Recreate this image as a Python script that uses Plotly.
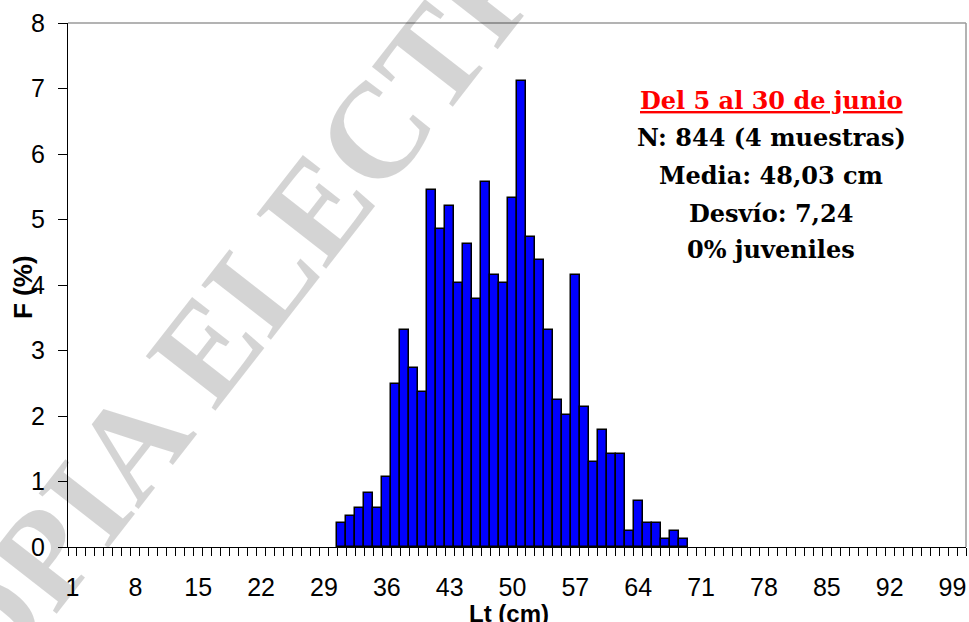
import plotly.graph_objects as go

# ---- data ----
lt_cm = [31, 32, 33, 34, 35, 36, 37, 38, 39, 40,
         41, 42, 43, 44, 45, 46, 47, 48, 49, 50,
         51, 52, 53, 54, 55, 56, 57, 58, 59, 60,
         61, 62, 63, 64, 65, 66, 67, 68, 69]
freq_pct = [0.36, 0.47, 0.59, 0.83, 0.59, 1.07, 2.49, 3.32, 2.73, 2.37,
            5.45, 4.86, 5.21, 4.03, 4.62, 3.79, 5.57, 4.15, 4.03, 5.33,
            7.11, 4.74, 4.38, 3.32, 2.25, 2.01, 4.15, 2.13, 1.30, 1.78,
            1.42, 1.42, 0.24, 0.71, 0.36, 0.36, 0.12, 0.24, 0.12]
x_tick_vals = [1, 8, 15, 22, 29, 36, 43, 50, 57, 64, 71, 78, 85, 92, 99]
x_tick_text = ["1", "8", "15", "22", "29", "36", "43", "50", "57", "64",
               "71", "78", "85", "92", "99"]
y_ticks = [0, 1, 2, 3, 4, 5, 6, 7, 8]
info_title = "Del 5 al 30 de junio"
info_lines = ["N: 844 (4 muestras)", "Media: 48,03 cm", "Desvío: 7,24", "0% juveniles"]
watermark = "COPIA ELECTRÓNICA"

W, H = 969, 622
L, R, T, B = 68, 3, 23, 75
PW, PH = W - L - R, H - T - B


def xp(px):
    return (px - L) / PW


def yp(py):
    return (H - B - py) / PH


fig = go.Figure()
fig.add_trace(go.Bar(
    x=lt_cm, y=freq_pct,
    marker=dict(color="#0000FF", line=dict(color="black", width=1.5)),
    width=1.0,
    hoverinfo="x+y",
))

sans = "Liberation Sans, Arial, sans-serif"
serif = "Liberation Serif, Times New Roman, serif"
serif2 = "DejaVu Serif, Liberation Serif, serif"

fig.update_layout(
    width=W, height=H,
    margin=dict(l=L, r=R, t=T, b=B, pad=0),
    paper_bgcolor="white", plot_bgcolor="white",
    bargap=0, showlegend=False,
    xaxis=dict(
        range=[0.5, 100.5], tickmode="array", tickvals=x_tick_vals, ticktext=x_tick_text,
        ticks="outside", ticklen=0, tickcolor="black",
        minor=dict(ticks="outside", ticklen=8, tickcolor="black", tickwidth=1,
                   tick0=0.5, dtick=1, showgrid=False),
        showline=True, linecolor="black", linewidth=1.3,
        showgrid=False, zeroline=False, automargin=False,
        tickfont=dict(family=sans, size=25, color="black"),
        ticklabelstandoff=18,
    ),
    yaxis=dict(
        range=[0, 8], tickmode="array", tickvals=y_ticks,
        ticks="outside", ticklen=9, tickcolor="black", tickwidth=1,
        showline=True, linecolor="black", linewidth=1.3,
        showgrid=False, zeroline=False, automargin=False,
        tickfont=dict(family=sans, size=25, color="black"),
        ticklabelstandoff=8,
    ),
)

# gray top/right border of the plot area
fig.add_shape(type="line", xref="paper", yref="paper", x0=0, x1=1, y0=1, y1=1,
              line=dict(color="#9a9a9a", width=1.5))
fig.add_shape(type="line", xref="paper", yref="paper", x0=1, x1=1, y0=0, y1=1,
              line=dict(color="#9a9a9a", width=1.5))

# watermark
fig.add_annotation(text="<b>" + watermark + "</b>", xref="paper", yref="paper",
                   x=xp(345), y=yp(170), showarrow=False, textangle=-52,
                   font=dict(family=serif, size=135, color="rgba(0,0,0,0.17)"),
                   xanchor="center", yanchor="middle")

# axis titles
fig.add_annotation(text="<b>F (%)</b>", xref="paper", yref="paper",
                   x=xp(23), y=yp(287), showarrow=False, textangle=-90,
                   font=dict(family=sans, size=26, color="black"),
                   xanchor="center", yanchor="middle")
fig.add_annotation(text="<b>Lt (cm)</b>", xref="paper", yref="paper",
                   x=xp(509), y=yp(613), showarrow=False,
                   font=dict(family=sans, size=24, color="black"),
                   xanchor="center", yanchor="middle")

# info text block
fig.add_annotation(text="<b><u>" + info_title + "</u></b>", xref="paper", yref="paper",
                   x=xp(771), y=yp(100), showarrow=False, borderpad=0,
                   font=dict(family=serif2, size=24, color="#FF0000"),
                   xanchor="center", yanchor="middle")
centers = [138, 175, 213, 250]
for line, cy in zip(info_lines, centers):
    fig.add_annotation(text="<b>" + line + "</b>", xref="paper", yref="paper",
                       x=xp(771), y=yp(cy), showarrow=False, borderpad=0,
                       font=dict(family=serif2, size=24, color="black"),
                       xanchor="center", yanchor="middle")

fig.write_html("out.html", config={"displayModeBar": False},
               post_script="document.body.style.margin='0px';document.body.style.padding='0px';")
